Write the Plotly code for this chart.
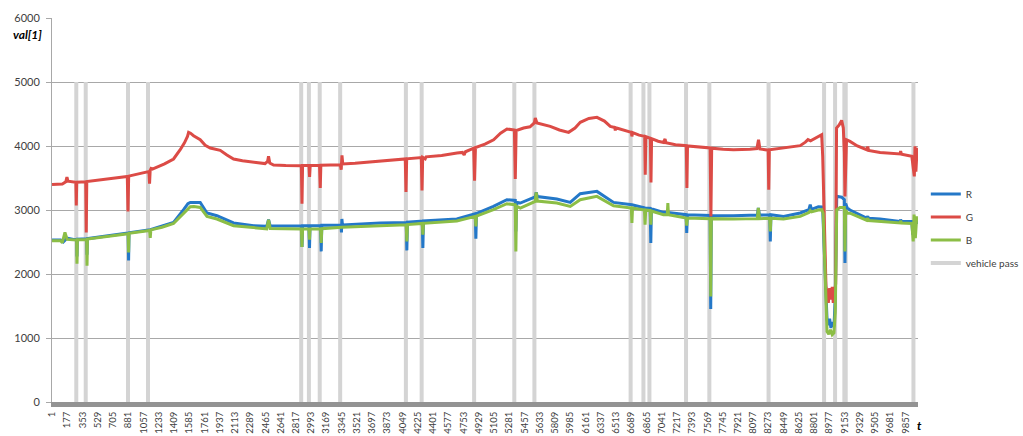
import plotly.graph_objects as go

# ---- sensor channels: (t, value) samples ----
R_t = [1, 100, 130, 174, 250, 284, 289, 294, 400, 405, 410, 558, 700, 880, 885, 890,
       1135, 1270, 1404, 1520, 1570, 1597, 1712, 1790, 1905, 2097, 2328, 2480, 2501, 2520,
       2636, 2880, 2887, 2894, 2968, 2974, 2980, 3102, 3109, 3116, 3338, 3343, 3348, 3355,
       3790, 4091, 4098, 4105, 4276, 4283, 4290, 4675, 4888, 4895, 4902, 5098, 5253, 5350,
       5357, 5364, 5408, 5580, 5592, 5605, 5830, 5985, 6100, 6293, 6485, 6697, 6849, 6908,
       6915, 6922, 7061, 7112, 7323, 7330, 7337, 7600, 7607, 7614, 7868, 8145, 8157, 8170,
       8288, 8295, 8302, 8448, 8641, 8740, 8756, 8770, 8850, 8888, 8900, 8938, 8950, 8965,
       8980, 8995, 9010, 9030, 9045, 9062, 9119, 9150, 9157, 9165, 9184, 9215, 9408, 9420,
       9430, 9563, 9794, 9800, 9810, 9929, 9940, 9948, 10000]
R_v = [2530, 2530, 2500, 2560, 2540, 2540, 2276, 2545, 2550, 2300, 2552, 2580, 2610, 2641, 2213, 2645,
       2692, 2750, 2806, 3005, 3100, 3119, 3119, 2953, 2911, 2797, 2755, 2745, 2848, 2750,
       2750, 2755, 2422, 2755, 2755, 2406, 2755, 2757, 2353, 2760, 2760, 2650, 2859, 2765,
       2797, 2806, 2369, 2810, 2828, 2406, 2830, 2859, 2940, 2552, 2945, 3056, 3161, 3150,
       2666, 3120, 3109, 3203, 3275, 3210, 3172, 3119, 3255, 3291, 3119, 3083, 3031, 3025,
       2484, 3020, 2963, 2960, 2927, 2641, 2925, 2915, 1453, 2915, 2911, 2920, 3031, 2920,
       2925, 2509, 2925, 2900, 2953, 3005, 3083, 3010, 3050, 3047, 3000, 1755, 1290, 1200,
       1300, 1156, 1250, 1180, 1600, 3213, 3200, 3161, 2172, 3100, 3031, 3000, 2875, 2900,
       2870, 2859, 2822, 2850, 2822, 2822, 2614, 2806, 2806]

G_t = [1, 120, 160, 173, 185, 276, 281, 286, 390, 396, 402, 600, 870, 878, 886, 1050,
       1120, 1127, 1134, 1145, 1160, 1300, 1404, 1481, 1530, 1565, 1578, 1600, 1635, 1712,
       1770, 1828, 1900, 1943, 2020, 2097, 2200, 2328, 2460, 2490, 2501, 2515, 2559, 2700,
       2880, 2887, 2894, 2968, 2975, 2982, 3090, 3098, 3105, 3330, 3340, 3349, 3358, 3500,
       3791, 4080, 4088, 4096, 4265, 4273, 4281, 4310, 4320, 4500, 4677, 4740, 4760, 4775,
       4870, 4880, 4890, 5000, 5100, 5180, 5254, 5340, 5350, 5360, 5446, 5520, 5570, 5581,
       5600, 5716, 5754, 5860, 5966, 6040, 6101, 6200, 6293, 6380, 6447, 6500, 6505, 6510,
       6600, 6690, 6697, 6704, 6780, 6845, 6851, 6858, 6910, 6917, 6924, 7000, 7062, 7080,
       7090, 7200, 7325, 7332, 7339, 7486, 7600, 7609, 7618, 7750, 7870, 8060, 8140, 8159,
       8175, 8270, 8277, 8284, 8448, 8640, 8700, 8718, 8730, 8760, 8850, 8888, 8900, 8938,
       8950, 8965, 8980, 8995, 9010, 9022, 9050, 9060, 9090, 9119, 9138, 9150, 9157, 9175,
       9215, 9300, 9408, 9420, 9430, 9563, 9794, 9800, 9810, 9929, 9958, 9966, 9976, 9990, 10000]
G_v = [3400, 3405, 3440, 3515, 3450, 3432, 3070, 3435, 3440, 2650, 3445, 3480, 3525, 2978, 3530, 3580,
       3600, 3411, 3620, 3650, 3640, 3720, 3797, 3942, 4050, 4150, 4213, 4200, 4161, 4098,
       4010, 3969, 3945, 3932, 3860, 3797, 3770, 3744, 3725, 3760, 3838, 3735, 3703, 3695,
       3692, 3098, 3695, 3695, 3516, 3697, 3698, 3344, 3700, 3706, 3630, 3853, 3720, 3730,
       3760, 3797, 3281, 3800, 3820, 3306, 3822, 3800, 3830, 3850, 3890, 3900, 3860, 3910,
       3965, 3458, 3975, 4030, 4098, 4200, 4266, 4250, 3484, 4240, 4281, 4300, 4360, 4438,
       4359, 4317, 4307, 4250, 4213, 4280, 4370, 4430, 4448, 4390, 4307, 4290, 4240, 4285,
       4250, 4213, 4150, 4210, 4170, 4150, 3552, 4145, 4120, 3431, 4115, 4075, 4056, 4110,
       4050, 4020, 4005, 3344, 4000, 3978, 3969, 2900, 3965, 3950, 3942, 3950, 3960, 4098,
       3955, 3935, 3317, 3940, 3969, 4005, 4060, 4080, 4100, 4080, 4150, 4177, 3840, 1806,
       1700, 1550, 1780, 1600, 1800, 1550, 1850, 4281, 4330, 4400, 4281, 3900, 3213, 4098,
       4072, 4000, 3942, 3990, 3930, 3900, 3875, 3920, 3870, 3838, 3525, 3995, 3600, 3950, 3950]

B_t = [1, 100, 120, 150, 175, 250, 284, 289, 294, 400, 405, 410, 558, 700, 880, 885,
       890, 1128, 1135, 1142, 1270, 1404, 1520, 1597, 1640, 1712, 1790, 1905, 2097, 2328,
       2480, 2501, 2520, 2880, 2887, 2894, 2968, 2974, 2980, 3102, 3109, 3116, 3348, 3790,
       4091, 4098, 4105, 4276, 4283, 4290, 4675, 4888, 4895, 4902, 5098, 5253, 5350, 5357,
       5364, 5408, 5580, 5592, 5605, 5830, 5985, 6100, 6293, 6485, 6690, 6697, 6704, 6842,
       6849, 6856, 6908, 6915, 6922, 7061, 7105, 7112, 7119, 7323, 7330, 7337, 7600, 7607,
       7614, 7868, 8145, 8157, 8170, 8288, 8295, 8302, 8448, 8641, 8740, 8756, 8770, 8850,
       8888, 8905, 8938, 8950, 8970, 8990, 9010, 9030, 9045, 9062, 9100, 9150, 9157, 9165,
       9184, 9215, 9408, 9420, 9430, 9794, 9800, 9810, 9929, 9945, 9955, 9970, 9985, 10000]
B_v = [2520, 2520, 2490, 2650, 2540, 2530, 2530, 2161, 2535, 2540, 2130, 2545, 2570, 2600, 2630, 2338,
       2635, 2680, 2563, 2690, 2730, 2790, 2953, 3050, 3056, 3040, 2900, 2859, 2755, 2719,
       2705, 2848, 2710, 2705, 2422, 2705, 2705, 2536, 2705, 2706, 2484, 2708, 2730, 2755,
       2770, 2509, 2772, 2790, 2614, 2792, 2828, 2900, 2744, 2905, 3005, 3098, 3080, 2353,
       3060, 3031, 3134, 3275, 3140, 3109, 3056, 3161, 3213, 3067, 3031, 2797, 3031, 3000,
       2770, 3000, 2990, 2770, 2985, 2927, 2930, 3109, 2925, 2875, 2755, 2875, 2865, 1650,
       2865, 2859, 2865, 3031, 2865, 2870, 2666, 2870, 2859, 2900, 2960, 2990, 2970, 3000,
       3005, 2950, 1500, 1100, 1060, 1130, 1052, 1080, 1400, 3005, 3040, 3040, 2353, 3000,
       2953, 2950, 2840, 2870, 2835, 2797, 2830, 2795, 2790, 2509, 2927, 2560, 2880, 2880]

# ---- vehicle passes (t of each pass) and the level the flag is drawn at ----
pass_t = [281, 390, 878, 1109, 2878, 2967, 3092, 3328, 4087, 4269, 4875, 5339, 5571,
          6682, 6830, 6899, 7322, 7591, 8275, 8916, 9043, 9150, 9166, 9948]
PASS_LEVEL = 5000

# ---- axis labels ----
x_tick_labels = [1, 177, 353, 529, 705, 881, 1057, 1233, 1409, 1585, 1761, 1937, 2113, 2289,
                 2465, 2641, 2817, 2993, 3169, 3345, 3521, 3697, 3873, 4049, 4225, 4401, 4577,
                 4753, 4929, 5105, 5281, 5457, 5633, 5809, 5985, 6161, 6337, 6513, 6689, 6865,
                 7041, 7217, 7393, 7569, 7745, 7921, 8097, 8273, 8449, 8625, 8801, 8977, 9153,
                 9329, 9505, 9681, 9857]
y_ticks = [0, 1000, 2000, 3000, 4000, 5000, 6000]

FONT = "Lato"
TXT = "#404040"

# vertical flag segments for the vehicle-pass series
px, py = [], []
for t in pass_t:
    px += [t, t, None]
    py += [0, PASS_LEVEL, None]

fig = go.Figure()
fig.add_trace(go.Scatter(x=px, y=py, mode="lines", name="vehicle pass",
                         line=dict(color="#d4d4d4", width=4), legendrank=4,
                         legendgroup="p", hoverinfo="skip"))
fig.add_trace(go.Scatter(x=R_t, y=R_v, mode="lines", name="R",
                         line=dict(color="#2478c8", width=3), legendrank=1, legendgroup="r"))
fig.add_trace(go.Scatter(x=G_t, y=G_v, mode="lines", name="G",
                         line=dict(color="#dc4b46", width=3), legendrank=2, legendgroup="g"))
fig.add_trace(go.Scatter(x=B_t, y=B_v, mode="lines", name="B",
                         line=dict(color="#8cbe46", width=3), legendrank=3, legendgroup="b"))

fig.update_layout(
    width=1023, height=436,
    margin=dict(l=52, r=105, t=18, b=34),
    paper_bgcolor="white", plot_bgcolor="white",
    font=dict(family=FONT, size=11, color=TXT),
    showlegend=True,
    legend=dict(xref="container", yref="container", x=0.905, y=0.476,
                xanchor="left", yanchor="middle", traceorder="grouped",
                tracegroupgap=4, font=dict(size=10, color=TXT),
                bgcolor="rgba(0,0,0,0)"),
    xaxis=dict(range=[0.5, 10000.5], showgrid=False, zeroline=False,
               showline=True, linecolor="#939393", linewidth=5,
               tickmode="array", tickvals=x_tick_labels,
               ticktext=[str(v) for v in x_tick_labels],
               tickangle=-90, ticks="", ticklabelstandoff=1,
               tickfont=dict(size=9.5, color=TXT), automargin=False),
    yaxis=dict(range=[0, 6000], tickmode="array", tickvals=y_ticks,
               showgrid=True, gridcolor="#a8a8a8", gridwidth=1, zeroline=False,
               showline=True, linecolor="#a8a8a8", linewidth=1,
               ticks="outside", ticklen=5, tickcolor="#a8a8a8",
               ticklabelstandoff=4, tickfont=dict(size=11, color=TXT),
               automargin=False),
    annotations=[
        dict(text="<b><i>val[1]</i></b>", xref="paper", yref="paper",
             x=-0.0285, y=0.956, xanchor="center", yanchor="middle",
             showarrow=False, font=dict(size=12, color="black")),
        dict(text="<b><i>t</i></b>", xref="paper", yref="paper",
             x=1.002, y=-0.062, xanchor="center", yanchor="middle",
             showarrow=False, font=dict(size=12, color="black")),
    ],
)

fig.write_html("out.html")
